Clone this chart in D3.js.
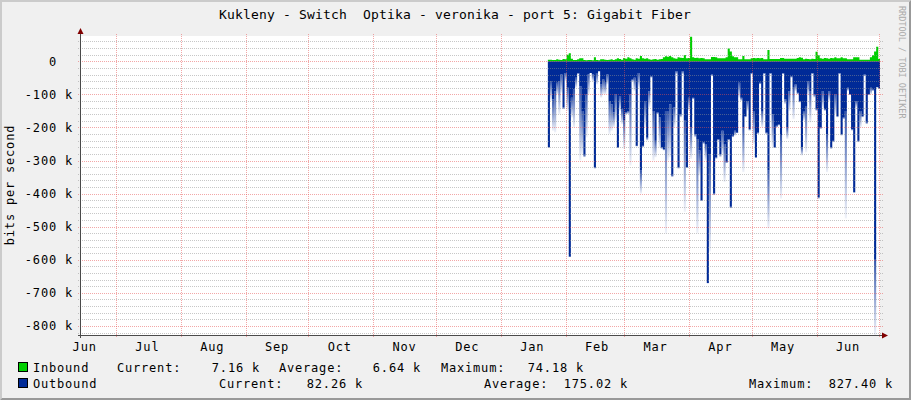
<!DOCTYPE html>
<html><head><meta charset="utf-8">
<script src="https://cdn.jsdelivr.net/npm/d3@7"></script>
<style>
html,body{margin:0;padding:0;background:#F0F0F0;}
svg{display:block;}
text{font-family:"DejaVu Sans Mono",monospace;white-space:pre;}
</style>
</head><body><svg id="c" width="911" height="400"></svg>
<script>
const title = "Kukleny - Switch  Optika - veronika - port 5: Gigabit Fiber";
const yAxisTitle = "bits per second";
const watermark = "RRDTOOL / TOBI OETIKER";
const dataStart = "2015-01-23T12:00:00Z";   // first daily sample
const viewStart = "2014-06-14T06:00:00Z";
const viewEnd = "2015-07-01T08:00:00Z";
const yMin = -827.4, yMax = 76.5;           // k bits/s
const majorTicks = [0,-100,-200,-300,-400,-500,-600,-700,-800];
const tickLabels = ["0","-100 k","-200 k","-300 k","-400 k","-500 k","-600 k","-700 k","-800 k"];

// Inbound (k bits/s), daily
const inbound = [5,5,4,4,6,5,4,7,6,20,
24,8,4,4,6,9,9,4,3,4,
4,3,12,4,3,6,6,5,4,5,
6,4,6,9,7,5,10,8,12,9,
6,5,9,8,16,9,8,9,6,5,
6,7,5,6,7,12,15,14,16,12,
9,8,12,11,10,19,9,10,74.18,12,
10,11,9,10,9,6,6,6,13,13,
12,9,9,9,9,12,39,30,15,12,
12,6,6,16,6,6,6,9,10,9,
10,9,10,6,6,34,7,7,7,7,
7,10,10,8,8,8,8,8,8,10,
12,11,6,8,7,6,8,7,29,18,
9,8,10,9,8,10,9,12,9,9,
12,9,9,6,6,6,12,12,12,5,
5,5,5,5,12,18,30,44,7.16];

// Outbound (k bits/s, drawn below zero), daily sustained level
const outbound = [259,60,115,90,65,60,40,140,35,80,
590,110,85,50,35,75,150,285,100,40,
35,40,320,35,30,70,55,65,40,120,
130,155,100,260,105,145,180,155,150,100,
55,50,255,35,330,255,120,230,90,45,
150,240,155,170,260,265,150,150,130,345,
140,30,320,160,30,180,320,110,200,110,
220,235,270,420,245,250,670,280,40,400,
290,236,280,210,250,305,235,440,225,210,
215,65,110,200,165,120,205,35,150,290,
215,65,150,35,215,330,35,160,260,195,
190,225,35,115,200,90,45,80,70,95,
120,260,150,135,60,90,35,100,145,410,
200,90,145,220,90,260,240,100,165,35,
220,170,150,80,100,205,395,120,240,150,
165,40,185,100,80,85,600,78,82.26];

// Outbound daily maximum (k bits/s)
const outboundMax = [262,120,210,215,100,160,95,145,60,150,
592,170,200,80,40,300,280,290,230,100,
35,60,325,70,30,110,100,100,70,220,
210,200,180,262,150,190,265,160,160,315,
60,90,258,80,400,260,200,240,140,50,
300,290,160,260,265,270,520,300,290,350,
200,40,325,170,40,455,322,150,295,115,
230,520,345,422,250,300,672,575,45,405,
295,240,290,280,365,307,240,445,230,225,
218,110,120,335,170,150,210,40,250,292,
220,70,200,40,220,505,40,260,262,200,
195,415,40,130,235,150,50,175,90,100,
125,285,180,275,100,185,40,110,150,416,
205,140,150,335,120,265,245,160,170,40,
225,175,475,90,100,210,398,140,245,200,
170,45,190,100,100,90,827.4,80,82.26];

const legendRows = [
  {name:"Inbound", color:"#00CF00", parts:[["Current:",117,"start"],["7.16 k",260,"end"],["Average:",279,"start"],["6.64 k",421,"end"],["Maximum:",441,"start"],["74.18 k",584,"end"]]},
  {name:"Outbound", color:"#002A97", parts:[["Current:",219,"start"],["82.26 k",363,"end"],["Average:",484,"start"],["175.02 k",628,"end"],["Maximum:",749,"start"],["827.40 k",893,"end"]]}
];

const W=911,H=400;
const L=81,R=880,T=36,B=335;
const svg = d3.select("#c");
const DAY = 864e5;

// frame
svg.append("rect").attr("width",W).attr("height",H).attr("fill","#F0F0F0");
svg.append("polygon").attr("points",`0,0 ${W},0 ${W-2},2 2,2 2,${H-2} 0,${H}`).attr("fill","#CBCBCB");
svg.append("polygon").attr("points",`${W},0 ${W},${H} 0,${H} 2,${H-2} ${W-2},${H-2} ${W-2},2`).attr("fill","#999999");

const x = d3.scaleUtc().domain([new Date(viewStart), new Date(viewEnd)]).range([L,R]);
const y = d3.scaleLinear().domain([yMin,yMax]).range([B,T]);

svg.append("rect").attr("x",L).attr("y",T).attr("width",R-L).attr("height",B-T).attr("fill","#FFFFFF");

const defs = svg.append("defs");
defs.append("clipPath").attr("id","clip").append("rect").attr("x",L).attr("y",T).attr("width",R-L).attr("height",B-T);
const g = defs.append("linearGradient").attr("id","fade").attr("x1",0).attr("y1",0).attr("x2",0).attr("y2",1);
g.append("stop").attr("offset","0").attr("stop-color","#002A97").attr("stop-opacity",0.8);
g.append("stop").attr("offset","1").attr("stop-color","#002A97").attr("stop-opacity",0.06);

const t0 = new Date(dataStart).getTime();
const rows = outbound.map((v,i)=>({t:new Date(t0+i*DAY), t1:new Date(t0+(i+1)*DAY), out:v, outMax:outboundMax[i], inb:inbound[i]}));
const stepRows = rows.concat([{t:rows[rows.length-1].t1, out:rows[rows.length-1].out, inb:rows[rows.length-1].inb}]);

const plot = svg.append("g").attr("clip-path","url(#clip)");

// outbound fading maxima
plot.selectAll("rect.tail").data(rows.filter(d=>d.outMax>d.out)).join("rect")
  .attr("x",d=>x(d.t)).attr("width",d=>x(d.t1)-x(d.t))
  .attr("y",d=>y(-d.out)).attr("height",d=>y(-d.outMax)-y(-d.out))
  .attr("fill","url(#fade)");

plot.append("path").datum(stepRows)
  .attr("d", d3.area().curve(d3.curveStepAfter).x(d=>x(d.t)).y0(y(0)).y1(d=>y(-d.out)))
  .attr("fill","#002A97");
plot.append("path").datum(stepRows)
  .attr("d", d3.area().curve(d3.curveStepAfter).x(d=>x(d.t)).y0(y(0)).y1(d=>y(d.inb)))
  .attr("fill","#00CF00");

// grid
const gridG = svg.append("g");
const minor = d3.range(-820, 61, 20).filter(v=>v%100!==0);
gridG.selectAll("line.mn").data(minor).join("line")
  .attr("x1",L-3).attr("x2",R+3)
  .attr("y1",d=>Math.round(y(d))+0.5).attr("y2",d=>Math.round(y(d))+0.5)
  .attr("stroke","rgba(143,143,143,0.5)").attr("stroke-dasharray","1,1");
gridG.selectAll("line.mj").data(majorTicks).join("line")
  .attr("x1",L-3).attr("x2",R+3)
  .attr("y1",d=>Math.round(y(d))+0.5).attr("y2",d=>Math.round(y(d))+0.5)
  .attr("stroke","rgba(230,80,80,0.5)").attr("stroke-dasharray","1,1");
const months = d3.utcMonth.range(x.domain()[0], x.domain()[1]).filter(d=>x(d)>=L);
gridG.selectAll("line.v").data(months).join("line")
  .attr("x1",d=>Math.round(x(d))+0.5).attr("x2",d=>Math.round(x(d))+0.5)
  .attr("y1",T-2).attr("y2",B+3)
  .attr("stroke","rgba(230,80,80,0.5)").attr("stroke-dasharray","1,1");

// axes
svg.append("line").attr("x1",L-0.5).attr("x2",L-0.5).attr("y1",B+3).attr("y2",T-5).attr("stroke","#4A4A4A");
svg.append("line").attr("x1",L-3).attr("x2",R+4).attr("y1",B+0.5).attr("y2",B+0.5).attr("stroke","#4A4A4A");
svg.append("polygon").attr("points",`${L-0.5},${T-8} ${L-3.5},${T-2} ${L+2.5},${T-2}`).attr("fill","#800000");
svg.append("polygon").attr("points",`${R+8},${B+0.5} ${R+2},${B-2.5} ${R+2},${B+3.5}`).attr("fill","#800000");

// y labels
svg.selectAll("text.yl").data(majorTicks).join("text")
  .attr("x",(d,i)=>d===0?57:73).attr("y",d=>y(d)+4.5)
  .attr("text-anchor","end").attr("font-size","12px").attr("letter-spacing","0.8px")
  .attr("fill","#000").text((d,i)=>tickLabels[i]);

// x labels (centered mid-month), only those inside the plot
const labelMonths = d3.utcMonth.range(d3.utcMonth.floor(x.domain()[0]), x.domain()[1])
  .filter(d=>{const p=x(new Date(d.getTime()+15*DAY)); return p>=L && p<=R;});
svg.selectAll("text.xl").data(labelMonths).join("text")
  .attr("x",d=>x(new Date(d.getTime()+15*DAY))).attr("y",351)
  .attr("text-anchor","middle").attr("font-size","12px").attr("letter-spacing","0.8px")
  .text(d=>d3.utcFormat("%b")(d));

// title
svg.append("text").attr("x",455).attr("y",18.5).attr("text-anchor","middle")
  .attr("font-size","13px").attr("letter-spacing","0.17px").text(title);

// y axis title
svg.append("text").attr("transform","translate(14,185) rotate(-90)").attr("text-anchor","middle")
  .attr("font-size","12px").attr("letter-spacing","0.8px").text(yAxisTitle);

// watermark
svg.append("text").attr("transform","translate(899,6) rotate(90)").attr("text-anchor","start")
  .attr("font-size","8.5px").attr("fill","#AAAAAA").text(watermark);

// legend
legendRows.forEach((r,ri)=>{
  const by = 372 + ri*16;
  svg.append("rect").attr("x",18.5).attr("y",by-9.5).attr("width",9).attr("height",9)
    .attr("fill",r.color).attr("stroke","#000");
  svg.append("text").attr("x",33).attr("y",by).attr("font-size","12px").attr("letter-spacing","0.8px").text(r.name);
  r.parts.forEach(p=>{
    svg.append("text").attr("x",p[1]).attr("y",by).attr("text-anchor",p[2])
      .attr("font-size","12px").attr("letter-spacing","0.8px").text(p[0]);
  });
});
</script>
</body></html>
